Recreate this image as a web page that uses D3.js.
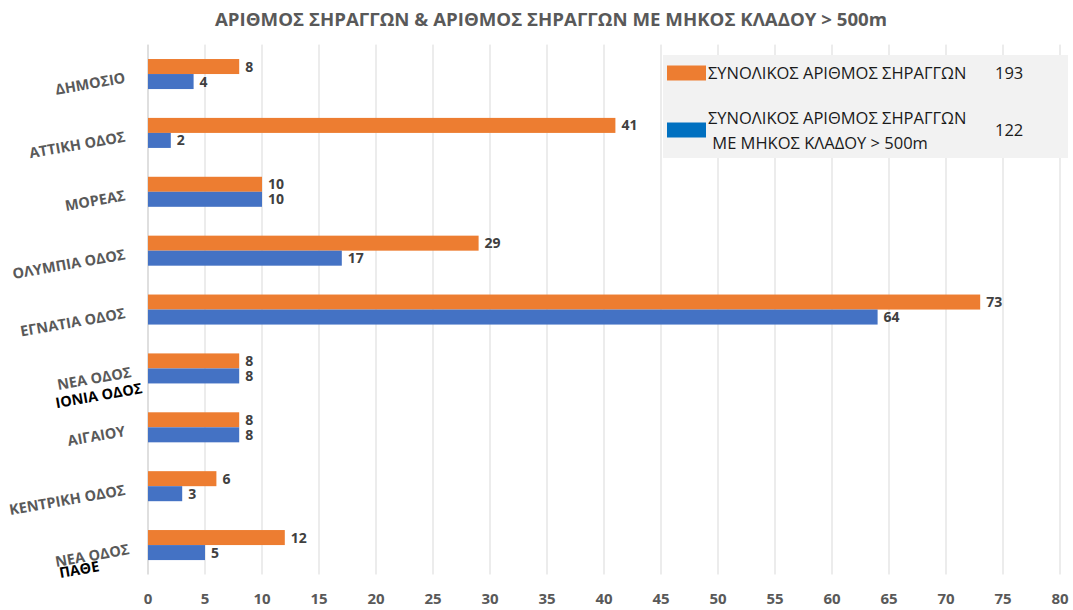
<!DOCTYPE html>
<html>
<head>
<meta charset="utf-8">
<script src="https://cdn.jsdelivr.net/npm/d3@7"></script>
<style>
  body { margin: 0; background: #fff; }
  text { font-family: "Open Sans", "DejaVu Sans", sans-serif; }
</style>
</head>
<body>
<div id="chart"></div>
<script>
// data
var categories = ["ΔΗΜΟΣΙΟ", "ΑΤΤΙΚΗ ΟΔΟΣ", "ΜΟΡΕΑΣ", "ΟΛΥΜΠΙΑ ΟΔΟΣ", "ΕΓΝΑΤΙΑ ΟΔΟΣ",
                  "ΝΕΑ ΟΔΟΣ", "ΑΙΓΑΙΟΥ", "ΚΕΝΤΡΙΚΗ ΟΔΟΣ", "ΝΕΑ ΟΔΟΣ "];
var secondLine = ["", "", "", "", "", "ΙΟΝΙΑ ΟΔΟΣ", "", "", "ΠΑΘΕ"];
var seriesNames = ["ΣΥΝΟΛΙΚΟΣ ΑΡΙΘΜΟΣ ΣΗΡΑΓΓΩΝ", "ΣΥΝΟΛΙΚΟΣ ΑΡΙΘΜΟΣ ΣΗΡΑΓΓΩΝ\n ΜΕ ΜΗΚΟΣ ΚΛΑΔΟΥ > 500m"];
var totalTunnels = [8, 41, 10, 29, 73, 8, 8, 6, 12];
var longTunnels  = [4, 2, 10, 17, 64, 8, 8, 3, 5];
var seriesTotals = [193, 122];
var xTicks = [0, 5, 10, 15, 20, 25, 30, 35, 40, 45, 50, 55, 60, 65, 70, 75, 80];
var title = "ΑΡΙΘΜΟΣ ΣΗΡΑΓΓΩΝ & ΑΡΙΘΜΟΣ ΣΗΡΑΓΓΩΝ ΜΕ ΜΗΚΟΣ ΚΛΑΔΟΥ > 500m";

var W = 1073, H = 610;
var margin = {left: 148, right: 13, top: 44.6, bottom: 35.5};
var width = W - margin.left - margin.right, height = H - margin.top - margin.bottom;

var barColors = ["#ED7D31", "#4472C4"];
var legendColors = ["#ED7D31", "#0070C0"];

var svg = d3.select("#chart").append("svg")
    .attr("width", W).attr("height", H);

svg.append("text")
    .attr("x", 551).attr("y", 26)
    .attr("text-anchor", "middle")
    .attr("fill", "#595959")
    .attr("textLength", 672)
    .attr("lengthAdjust", "spacingAndGlyphs")
    .style("font-size", "18px")
    .style("font-weight", "bold")
    .text(title);

var g = svg.append("g")
    .attr("transform", "translate(" + margin.left + "," + margin.top + ")");

var x = d3.scaleLinear().domain([0, 80]).range([0, width]);
var y = d3.scaleBand().domain(d3.range(categories.length)).range([0, height])
    .paddingInner(0.49).paddingOuter(0.245);
var y1 = d3.scaleBand().domain([0, 1]).range([0, y.bandwidth()]);

// vertical gridlines
g.append("g").selectAll("line")
    .data(xTicks.slice(1))
    .enter().append("line")
    .attr("x1", function(d) { return x(d); }).attr("x2", function(d) { return x(d); })
    .attr("y1", 0).attr("y2", height)
    .attr("stroke", "#D9D9D9").attr("stroke-width", 1);

// x axis tick labels
g.append("g").selectAll("text")
    .data(xTicks)
    .enter().append("text")
    .attr("x", function(d) { return x(d); })
    .attr("y", height + 30)
    .attr("text-anchor", "middle")
    .attr("fill", "#595959")
    .style("font-size", "15px").style("font-weight", "bold")
    .text(function(d) { return d; });

// left axis line
g.append("line")
    .attr("x1", 0).attr("x2", 0).attr("y1", 0).attr("y2", height)
    .attr("stroke", "#BFBFBF");

var rows = categories.map(function(c, i) {
    return {i: i, values: [totalTunnels[i], longTunnels[i]]};
});

var groups = g.append("g").selectAll("g")
    .data(rows)
    .enter().append("g")
    .attr("transform", function(d) { return "translate(0," + y(d.i) + ")"; });

var bars = groups.selectAll("g")
    .data(function(d) { return d.values.map(function(v, k) { return {k: k, v: v}; }); })
    .enter().append("g");

bars.append("rect")
    .attr("x", 0)
    .attr("y", function(d) { return y1(d.k); })
    .attr("width", function(d) { return x(d.v); })
    .attr("height", y1.bandwidth())
    .attr("fill", function(d) { return barColors[d.k]; });

bars.append("text")
    .attr("x", function(d) { return x(d.v) + 6; })
    .attr("y", function(d) { return y1(d.k) + y1.bandwidth() / 2 + 5; })
    .attr("fill", "#404040")
    .style("font-size", "14px").style("font-weight", "bold")
    .text(function(d) { return d.v; });

// category labels, rotated
var labelOffsets = {5: {x: 132, dy: 8.5}, 8: {x: 130, dy: 9}};
var line2Offsets = {5: {x: 143, dy: 24.5}, 8: {x: 100, dy: 26}};
categories.forEach(function(c, i) {
    var cy = margin.top + y(i) + y.bandwidth() / 2;
    var o = labelOffsets[i] || {x: 126, dy: 8.5};
    svg.append("text")
        .attr("transform", "translate(" + o.x + "," + (cy + o.dy) + ") rotate(-10)")
        .attr("text-anchor", "end")
        .attr("fill", "#595959")
        .style("font-size", "14.5px").style("font-weight", "bold")
        .text(c.trim());
    if (secondLine[i]) {
        var o2 = line2Offsets[i];
        svg.append("text")
            .attr("transform", "translate(" + o2.x + "," + (cy + o2.dy) + ") rotate(-10)")
            .attr("text-anchor", "end")
            .attr("fill", "#000")
            .style("font-size", "14.5px").style("font-weight", "bold")
            .text(secondLine[i]);
    }
});

// legend box
var legend = svg.append("g");
legend.append("rect")
    .attr("x", 663).attr("y", 55).attr("width", 405).attr("height", 103)
    .attr("fill", "#F2F2F2");
var legendRowY = [73, 130];
seriesNames.forEach(function(name, k) {
    legend.append("rect")
        .attr("x", 667).attr("y", legendRowY[k] - 7.5)
        .attr("width", 39).attr("height", 15)
        .attr("fill", legendColors[k]);
    var lines = name.split("\n");
    var t = legend.append("text")
        .attr("x", 708)
        .attr("fill", "#1a1a1a")
        .style("font-size", "16.5px");
    lines.forEach(function(l, j) {
        t.append("tspan")
            .attr("x", 708)
            .attr("y", legendRowY[k] + 6 - (lines.length - 1) * 12.5 + j * 25)
            .attr("xml:space", "preserve")
            .text(l);
    });
    legend.append("text")
        .attr("x", 995).attr("y", legendRowY[k] + 6)
        .attr("fill", "#1a1a1a")
        .style("font-size", "16.5px")
        .text(seriesTotals[k]);
});
</script>
</body>
</html>
